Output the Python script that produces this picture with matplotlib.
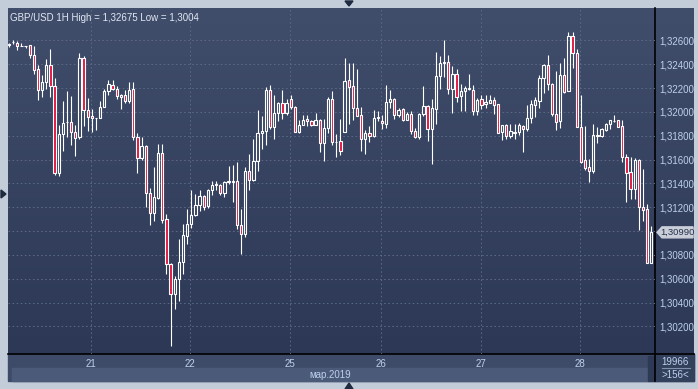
"""GBP/USD 1H candlestick chart in a dark trading-terminal style."""
import matplotlib
matplotlib.use("Agg")
import matplotlib.pyplot as plt
from matplotlib.patches import Rectangle, Polygon
import numpy as np

W, H = 698, 389

# hourly candles, 20-28 March 2019
opens = [1.32566, 1.32589, 1.32583, 1.32556, 1.32555, 1.32561, 1.32482, 1.32365, 1.32188, 1.32253,
         1.32398, 1.32222, 1.31488, 1.31819, 1.31917, 1.31920, 1.31833, 1.31791, 1.32457, 1.32020,
         1.31964, 1.31950, 1.31950, 1.32043, 1.32177, 1.32230, 1.32197, 1.32127, 1.32146, 1.32090,
         1.32191, 1.31794, 1.31617, 1.31715, 1.31323, 1.31152, 1.31276, 1.31654, 1.31105, 1.30727,
         1.30475, 1.30601, 1.30741, 1.30959, 1.31063, 1.31133, 1.31222, 1.31298, 1.31208, 1.31346,
         1.31390, 1.31390, 1.31323, 1.31416, 1.31417, 1.31424, 1.31054, 1.30979, 1.31502, 1.31432,
         1.31586, 1.31827, 1.31838, 1.32183, 1.31875, 1.31995, 1.32079, 1.31990, 1.32107, 1.32046,
         1.31833, 1.31894, 1.31945, 1.31925, 1.31894, 1.31936, 1.31743, 1.31869, 1.32113, 1.31752,
         1.31760, 1.31833, 1.32267, 1.32216, 1.32037, 1.31978, 1.31777, 1.31827, 1.31799, 1.31953,
         1.31925, 1.31903, 1.32088, 1.32113, 1.31978, 1.32029, 1.31933, 1.31987, 1.31844, 1.31794,
         1.31981, 1.32054, 1.31861, 1.32029, 1.32300, 1.32415, 1.32417, 1.32197, 1.32323, 1.32132,
         1.32177, 1.32197, 1.32188, 1.32012, 1.32113, 1.32068, 1.32079, 1.32099, 1.32065, 1.31833,
         1.31889, 1.31796, 1.31827, 1.31833, 1.31886, 1.31855, 1.31953, 1.32062, 1.32096, 1.32286,
         1.32398, 1.32239, 1.31987, 1.31925, 1.32314, 1.32174, 1.32636, 1.32499, 1.31878, 1.31595,
         1.31536, 1.31505, 1.31796, 1.31796, 1.31852, 1.31897, 1.31925, 1.31931, 1.31883, 1.31626,
         1.31500, 1.31357, 1.31600, 1.31206, 1.31183, 1.30735]
highs = [1.32580, 1.32608, 1.32595, 1.32583, 1.32556, 1.32566, 1.32550, 1.32398, 1.32314, 1.32443,
         1.32527, 1.32289, 1.31889, 1.32090, 1.32180, 1.32138, 1.31889, 1.32499, 1.32466, 1.32118,
         1.32029, 1.31953, 1.32090, 1.32191, 1.32267, 1.32267, 1.32219, 1.32149, 1.32183, 1.32253,
         1.32253, 1.31827, 1.31791, 1.31721, 1.31365, 1.31536, 1.31729, 1.31729, 1.31141, 1.30730,
         1.30623, 1.30931, 1.31057, 1.31183, 1.31346, 1.31309, 1.31346, 1.31300, 1.31354, 1.31418,
         1.31418, 1.31399, 1.31421, 1.31545, 1.31553, 1.31581, 1.31183, 1.31536, 1.31645, 1.31771,
         1.32015, 1.31964, 1.32208, 1.32225, 1.32141, 1.32080, 1.32183, 1.32113, 1.32141, 1.32048,
         1.31931, 1.31978, 1.31978, 1.31936, 1.31995, 1.31945, 1.31945, 1.32127, 1.32175, 1.31813,
         1.31939, 1.32454, 1.32412, 1.32412, 1.32359, 1.32043, 1.31852, 1.31883, 1.32015, 1.32006,
         1.31978, 1.32225, 1.32183, 1.32118, 1.32037, 1.32034, 1.32001, 1.32006, 1.31866, 1.31990,
         1.32216, 1.32062, 1.32107, 1.32505, 1.32471, 1.32603, 1.32477, 1.32387, 1.32359, 1.32239,
         1.32216, 1.32317, 1.32225, 1.32118, 1.32146, 1.32146, 1.32141, 1.32127, 1.32068, 1.31891,
         1.31897, 1.31897, 1.31897, 1.31911, 1.31889, 1.32057, 1.32099, 1.32124, 1.32309, 1.32400,
         1.32477, 1.32241, 1.32342, 1.32412, 1.32454, 1.32675, 1.32672, 1.32527, 1.32141, 1.31883,
         1.31603, 1.31903, 1.31875, 1.31866, 1.31908, 1.31936, 1.31973, 1.31936, 1.31931, 1.31645,
         1.31623, 1.31617, 1.31609, 1.31519, 1.31225, 1.31041]
lows = [1.32547, 1.32569, 1.32522, 1.32550, 1.32533, 1.32454, 1.32323, 1.32099, 1.32127, 1.32197,
        1.32127, 1.31474, 1.31463, 1.31670, 1.31788, 1.31726, 1.31631, 1.31777, 1.31883, 1.31838,
        1.31833, 1.31852, 1.31948, 1.32040, 1.32141, 1.32188, 1.32107, 1.32023, 1.32079, 1.32074,
        1.31763, 1.31488, 1.31595, 1.31200, 1.31049, 1.31082, 1.31270, 1.31068, 1.30640, 1.30040,
        1.30349, 1.30413, 1.30643, 1.30889, 1.31026, 1.31127, 1.31166, 1.31180, 1.31194, 1.31301,
        1.31343, 1.31301, 1.31287, 1.31399, 1.31245, 1.31015, 1.30808, 1.30951, 1.31346, 1.31421,
        1.31505, 1.31687, 1.31721, 1.31861, 1.31777, 1.31922, 1.31945, 1.31973, 1.32029, 1.31830,
        1.31824, 1.31892, 1.31883, 1.31883, 1.31892, 1.31665, 1.31589, 1.31820, 1.31721, 1.31623,
        1.31637, 1.31830, 1.31897, 1.31936, 1.31964, 1.31670, 1.31648, 1.31749, 1.31791, 1.31925,
        1.31861, 1.31866, 1.32034, 1.31945, 1.31959, 1.31922, 1.31931, 1.31816, 1.31782, 1.31777,
        1.31967, 1.31757, 1.31564, 1.31897, 1.32197, 1.32295, 1.32155, 1.31995, 1.32085, 1.32006,
        1.32006, 1.32183, 1.31978, 1.31978, 1.32029, 1.32034, 1.32077, 1.31987, 1.31822, 1.31763,
        1.31777, 1.31785, 1.31777, 1.31805, 1.31665, 1.31838, 1.31908, 1.31959, 1.32034, 1.32160,
        1.32188, 1.31967, 1.31847, 1.31866, 1.32160, 1.32172, 1.32370, 1.31875, 1.31572, 1.31511,
        1.31413, 1.31491, 1.31740, 1.31791, 1.31838, 1.31861, 1.31917, 1.31875, 1.31581, 1.31245,
        1.31273, 1.31273, 1.31010, 1.31085, 1.30733, 1.30733]
closes = [1.32569, 1.32590, 1.32558, 1.32555, 1.32556, 1.32482, 1.32356, 1.32188, 1.32253, 1.32398,
          1.32219, 1.31488, 1.31819, 1.31911, 1.31920, 1.31833, 1.31785, 1.32457, 1.32020, 1.31959,
          1.31953, 1.31951, 1.32040, 1.32172, 1.32233, 1.32197, 1.32132, 1.32146, 1.32090, 1.32188,
          1.31791, 1.31617, 1.31712, 1.31320, 1.31152, 1.31284, 1.31654, 1.31096, 1.30727, 1.30475,
          1.30601, 1.30741, 1.30965, 1.31063, 1.31133, 1.31222, 1.31298, 1.31203, 1.31346, 1.31390,
          1.31399, 1.31323, 1.31416, 1.31417, 1.31415, 1.31054, 1.30979, 1.31502, 1.31432, 1.31586,
          1.31827, 1.31838, 1.32183, 1.31875, 1.31995, 1.32079, 1.31990, 1.32079, 1.32046, 1.31833,
          1.31889, 1.31936, 1.31925, 1.31889, 1.31936, 1.31743, 1.31869, 1.32107, 1.31749, 1.31750,
          1.31673, 1.32258, 1.32211, 1.32034, 1.31967, 1.31777, 1.31827, 1.31799, 1.31953, 1.31962,
          1.31911, 1.32088, 1.32113, 1.31978, 1.32020, 1.31933, 1.31987, 1.31841, 1.31794, 1.31981,
          1.32054, 1.31861, 1.32032, 1.32300, 1.32415, 1.32417, 1.32197, 1.32323, 1.32130, 1.32172,
          1.32200, 1.32199, 1.32012, 1.32099, 1.32062, 1.32085, 1.32099, 1.32062, 1.31824, 1.31889,
          1.31796, 1.31838, 1.31835, 1.31889, 1.31855, 1.31953, 1.32065, 1.32099, 1.32286, 1.32398,
          1.32239, 1.31987, 1.31917, 1.32309, 1.32169, 1.32636, 1.32499, 1.31878, 1.31581, 1.31530,
          1.31505, 1.31805, 1.31805, 1.31855, 1.31897, 1.31931, 1.31926, 1.31878, 1.31626, 1.31491,
          1.31357, 1.31600, 1.31206, 1.31180, 1.30735, 1.30990]

day_ticks = [19.85, 43.75, 67.9, 89.8, 114.0, 137.9]
day_labels = ["21", "22", "25", "26", "27", "28"]
price_ticks = [1.3020, 1.3040, 1.3060, 1.3080, 1.3100, 1.3120, 1.3140,
               1.3160, 1.3180, 1.3200, 1.3220, 1.3240, 1.3260]
title = "GBP/USD 1H High = 1,32675 Low = 1,3004"
month_label = "мар.2019"
corner_top, corner_bottom = "19966", ">156<"

# colours
FRAME = "#c3cdd9"
BG_TOP, BG_BOTTOM = "#404d6b", "#2c3855"
GRID = "#5c6a88"
RED = "#e0163f"
TEXT = "#bcd0ec"
PANEL = "#3e4b68"
BAND = "#4b5a79"

plt.rcParams["font.family"] = ["Liberation Sans", "DejaVu Sans"]


def px_box(x0, y0, x1, y1):
    """Figure-fraction rect from pixel box with top-left origin."""
    return [x0 / W, 1 - y1 / H, (x1 - x0) / W, (y1 - y0) / H]


fig = plt.figure(figsize=(W / 100, H / 100), dpi=100, facecolor=FRAME)

# background layer drawn in pixel coordinates
bg = fig.add_axes(px_box(0, 0, W, H), zorder=0)
bg.set_xlim(0, W)
bg.set_ylim(H, 0)
bg.axis("off")

grad = np.linspace(0, 1, 256)[:, None]
top_rgb = np.array(matplotlib.colors.to_rgb(BG_TOP))
bot_rgb = np.array(matplotlib.colors.to_rgb(BG_BOTTOM))
grad_img = top_rgb * (1 - grad[..., None]) + bot_rgb * grad[..., None]
grad_img = np.repeat(grad_img, 2, axis=1)
bg.imshow(grad_img, extent=(8, 694, 354, 8), aspect="auto", interpolation="bilinear")

bg.add_patch(Rectangle((8, 354), 686, 27, color=PANEL))
bg.add_patch(Rectangle((12, 368), 636, 13, color=BAND))
bg.add_patch(Rectangle((648, 356), 7, 25, color="#2e3a55"))
bg.add_patch(Rectangle((655, 354), 39, 27, color="#33405c"))
bg.plot([8, 694], [354, 354], color="black", lw=1.2)
bg.plot([655, 655], [8, 381], color="black", lw=1.2)
bg.plot([662, 690], [368, 368], color="#8090ad", lw=0.8)
bg.text(675, 362, corner_top, color=TEXT, fontsize=7, ha="center", va="center")
bg.text(675, 374.5, corner_bottom, color=TEXT, fontsize=7, ha="center", va="center")
bg.text(330, 374.5, month_label, color=TEXT, fontsize=7, ha="center", va="center")

# little frame arrows
bg.add_patch(Polygon([[345, 1], [353, 1], [349, 6]], color="#1f2a40"))
bg.add_patch(Polygon([[345, 389], [353, 389], [349, 383]], color="#1f2a40"))
bg.add_patch(Polygon([[1, 190], [1, 198], [6, 194]], color="#1f2a40"))

# price chart
ax = fig.add_axes(px_box(8, 8, 655, 354), zorder=2)
ax.patch.set_alpha(0)
for spine in ax.spines.values():
    spine.set_visible(False)

idx = np.arange(len(opens))
o, h, l, c = (np.array(v) for v in (opens, highs, lows, closes))
body_top = np.maximum(o, c)
body_bot = np.minimum(o, c)
bear = c < o

ax.vlines(idx, body_top, h, color="white", lw=0.8, zorder=3)
ax.vlines(idx, l, body_bot, color="white", lw=0.8, zorder=3)
ax.bar(idx, np.maximum(body_top - body_bot, 0.00002), bottom=body_bot, width=0.55,
       color=[RED if b else "none" for b in bear], edgecolor="white", linewidth=0.8, zorder=4)

ax.set_xlim(-0.24, 155.9)
ax.set_ylim(1.299692, 1.328727)

ax.set_xticks(day_ticks, day_labels)
ax.set_yticks(price_ticks, [f"{p:.5f}".replace(".", ",") for p in price_ticks])
ax.yaxis.tick_right()
ax.tick_params(axis="both", length=0, labelcolor=TEXT, labelsize=7)
ax.tick_params(axis="x", pad=3.5)
ax.tick_params(axis="y", pad=3)
ax.grid(True, color=GRID, lw=0.7, linestyle=(0, (1.6, 2.6)))
ax.set_axisbelow(True)

ax.text(0.003, 0.985, title, transform=ax.transAxes, color="#e2e8f2", fontsize=7,
        ha="left", va="top", zorder=6)

# last price marker on the price scale (drawn on top of everything)
last = closes[-1]
y_last = H - ax.transData.transform((0, last))[1]
top = fig.add_axes(px_box(0, 0, W, H), zorder=5)
top.set_xlim(0, W)
top.set_ylim(H, 0)
top.axis("off")
top.add_patch(Polygon([[657, y_last], [662, y_last - 5.5], [693, y_last - 5.5],
                       [693, y_last + 5.5], [662, y_last + 5.5]], color="#c9ced8"))
top.text(677.5, y_last, f"{last:.5f}".replace(".", ","), color="#26304a", fontsize=6.8,
         ha="center", va="center")

fig.savefig("out.png", dpi=100, facecolor=FRAME)
